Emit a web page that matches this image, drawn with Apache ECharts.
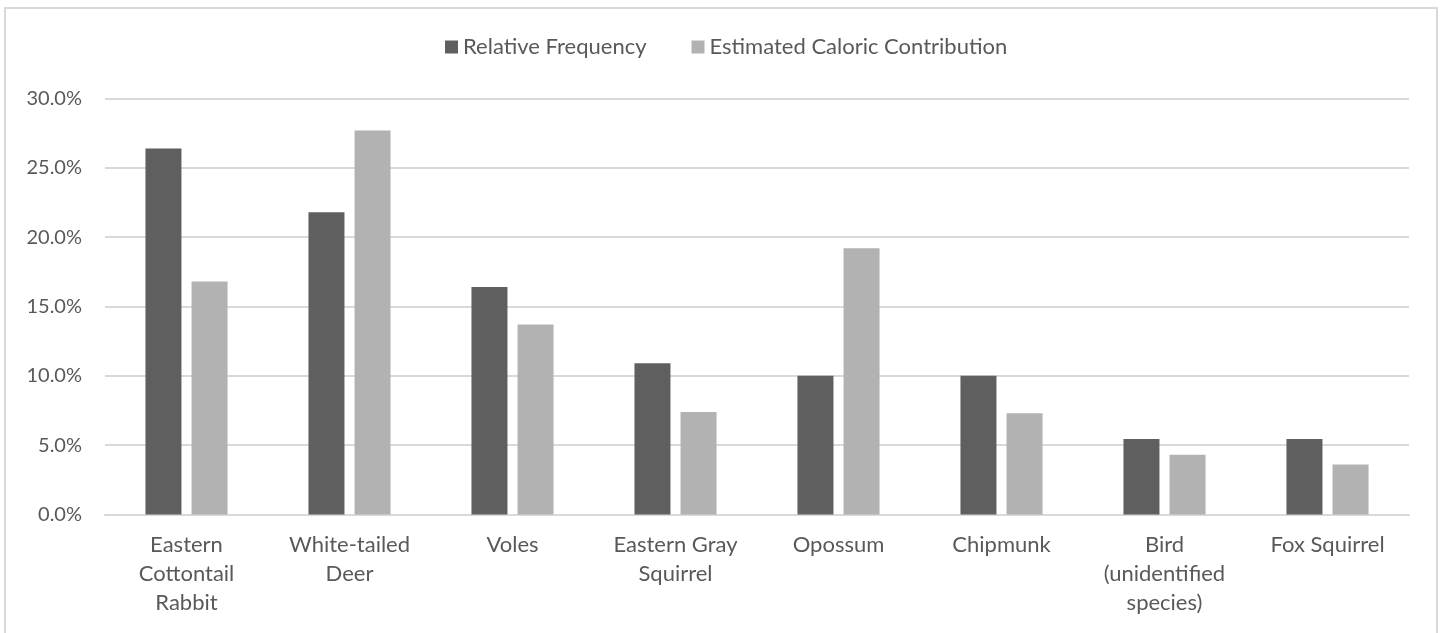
<!DOCTYPE html>
<html>
<head>
<meta charset="utf-8">
<title>Prey items: frequency and caloric contribution</title>
<script src="https://cdn.jsdelivr.net/npm/echarts@6/dist/echarts.min.js"></script>
<style>
  html, body { margin: 0; padding: 0; background: #ffffff; }
  #chart { width: 1442px; height: 633px; }
</style>
</head>
<body>
<div id="chart"></div>
<script>
// Prey categories (line breaks as shown under the axis)
const categories = [
  'Eastern\nCottontail\nRabbit',
  'White-tailed\nDeer',
  'Voles',
  'Eastern Gray\nSquirrel',
  'Opossum',
  'Chipmunk',
  'Bird\n(unidentified\nspecies)',
  'Fox Squirrel'
];

// Series names
const seriesNames = ['Relative Frequency', 'Estimated Caloric Contribution'];

// Values in percent
const relativeFrequency = [26.4, 21.8, 16.4, 10.9, 10.0, 10.0, 5.45, 5.45];
const caloricContribution = [16.8, 27.7, 13.7, 7.4, 19.2, 7.3, 4.3, 3.6];

// Value axis range
const yMin = 0;
const yMax = 30;
const yStep = 5;

const textColor = '#595959';
const fontFamily = 'Lato, "Open Sans", sans-serif';

const chart = echarts.init(document.getElementById('chart'), null, { renderer: 'canvas' });

chart.setOption({
  animation: false,
  backgroundColor: '#ffffff',
  textStyle: { fontFamily: fontFamily, color: textColor },
  graphic: [{
    type: 'rect',
    silent: true,
    shape: { x: 5, y: 8, width: 1432, height: 700 },
    style: { fill: 'none', stroke: '#d9d9d9', lineWidth: 2 }
  }],
  legend: {
    data: seriesNames,
    left: 440,
    top: 31,
    itemWidth: 13,
    itemHeight: 13,
    itemGap: 45,
    icon: 'rect',
    textStyle: { fontFamily: fontFamily, fontSize: 22, color: textColor }
  },
  grid: {
    left: 105,
    right: 33,
    top: 98.5,
    bottom: 118.5,
    containLabel: false
  },
  xAxis: {
    type: 'category',
    data: categories,
    axisLine: { show: true, lineStyle: { color: '#d9d9d9', width: 2 } },
    axisTick: { show: false },
    axisLabel: {
      interval: 0,
      margin: 16,
      fontFamily: fontFamily,
      fontSize: 22,
      lineHeight: 29,
      color: textColor,
      align: 'center'
    }
  },
  yAxis: {
    type: 'value',
    min: yMin,
    max: yMax,
    interval: yStep,
    axisLine: { show: false },
    axisTick: { show: false },
    splitLine: { lineStyle: { color: '#d9d9d9', width: 2 } },
    axisLabel: {
      margin: 23,
      fontFamily: fontFamily,
      fontSize: 20,
      color: textColor,
      formatter: function (v) { return v.toFixed(1) + '%'; }
    }
  },
  series: [
    {
      name: seriesNames[0],
      type: 'bar',
      data: relativeFrequency,
      barWidth: 36,
      barGap: '28%',
      itemStyle: { color: '#5f5f5f' }
    },
    {
      name: seriesNames[1],
      type: 'bar',
      data: caloricContribution,
      barWidth: 36,
      barGap: '28%',
      itemStyle: { color: '#b2b2b2' }
    }
  ]
});
</script>
</body>
</html>
